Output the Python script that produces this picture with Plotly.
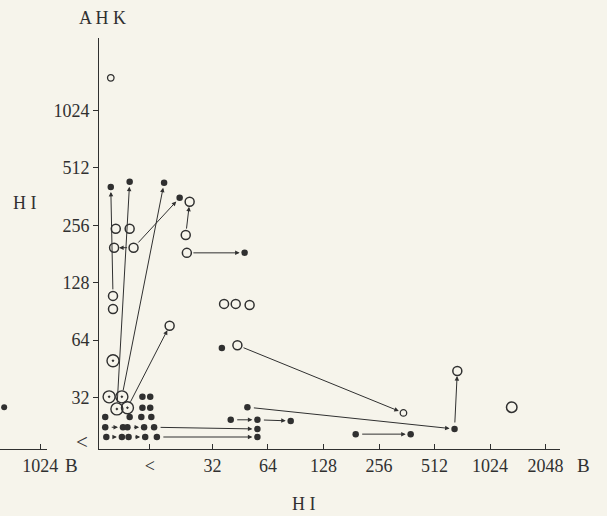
import numpy as np
import plotly.graph_objects as go

# ---- data (log2 of titres) ----
# HI titre (x, log2) and AHK titre (y, log2)
filled_hi = [3.17, 3.51, 4.13, 4.41, 5.58, 5.17, 5.63, 5.33, 5.81, 6.41, 5.81, 5.81, 9.36, 7.58, 8.57,
             3.74, 3.88, 3.74, 3.88, 3.07, 3.51, 3.72, 3.90, 3.07, 3.39, 3.47, 3.77, 3.95,
             3.09, 3.37, 3.49, 3.79, 4.00]
filled_ahk = [8.67, 8.76, 8.74, 8.48, 7.52, 5.86, 4.83, 4.61, 4.61, 4.59, 4.45, 4.31, 4.45, 4.36, 4.36,
              5.01, 5.01, 4.82, 4.82, 4.66, 4.66, 4.66, 4.66, 4.48, 4.48, 4.48, 4.48, 4.48,
              4.31, 4.31, 4.31, 4.31, 4.31]

double_hi = [3.14, 3.37, 3.28, 3.47, 3.21]
double_ahk = [5.01, 5.01, 4.80, 4.82, 5.64]

open_hi = [3.26, 3.51, 3.23, 3.58, 4.52, 4.59, 4.54, 3.21, 3.21, 5.21, 5.42, 5.67, 5.45, 4.23, 9.41]
open_ahk = [7.94, 7.94, 7.61, 7.61, 7.83, 8.41, 7.52, 6.77, 6.54, 6.63, 6.63, 6.61, 5.91, 6.25, 5.46]

small_open_hi = [3.17, 8.44]
small_open_ahk = [10.57, 4.73]

large_open_hi = [10.39]
large_open_ahk = [4.83]

# arrows: start (hi, ahk) -> end (hi, ahk), log2 titres
arrow_from_hi = [3.21, 3.28, 3.37, 3.47, 3.58, 3.58, 4.52, 4.54, 5.45, 5.63, 9.36, 5.33, 5.81,
                 3.95, 4.00, 7.58, 3.07, 3.47, 3.09, 3.49]
arrow_from_ahk = [6.77, 4.80, 5.01, 4.82, 7.61, 7.61, 7.83, 7.52, 5.91, 4.83, 4.45, 4.61, 4.61,
                  4.48, 4.31, 4.36, 4.48, 4.48, 4.31, 4.31]
arrow_to_hi = [3.17, 3.51, 4.13, 4.23, 4.41, 3.23, 4.59, 5.58, 8.44, 9.36, 9.41, 5.81, 6.41,
               5.81, 5.81, 8.57, 3.39, 3.77, 3.37, 3.79]
arrow_to_ahk = [8.67, 8.76, 8.74, 6.25, 8.48, 7.61, 8.41, 7.52, 4.73, 4.45, 5.46, 4.61, 4.59,
                4.45, 4.31, 4.36, 4.48, 4.48, 4.31, 4.31]

# neighbouring (cut-off) panel on the left
left_hi = [9.35]
left_ahk = [4.83]

x_tick_vals = [14.67, 32, 64, 128, 256, 512, 1024, 2048]
x_tick_text = ["<", "32", "64", "128", "256", "512", "1024", "2048"]
y_tick_vals = [32, 64, 128, 256, 512, 1024]
y_tick_text = ["32", "64", "128", "256", "512", "1024"]

INK = "#303030"
BG = "#f6f4eb"
FONT = "'Liberation Serif', 'DejaVu Serif', serif"
L2 = np.log10(2)

def t(v):
    return 2 ** np.array(v, dtype=float)

fig = go.Figure()

fig.add_trace(go.Scatter(x=t(filled_hi), y=t(filled_ahk), mode="markers",
                         marker=dict(symbol="circle", size=6.5, color=INK), showlegend=False))
fig.add_trace(go.Scatter(x=t(double_hi), y=t(double_ahk), mode="markers",
                         marker=dict(symbol="circle-open-dot", size=12, color=INK,
                                     line=dict(width=1.4, color=INK)), showlegend=False))
fig.add_trace(go.Scatter(x=t(open_hi), y=t(open_ahk), mode="markers",
                         marker=dict(symbol="circle-open", size=9, color=INK,
                                     line=dict(width=1.5, color=INK)), showlegend=False))
fig.add_trace(go.Scatter(x=t(small_open_hi), y=t(small_open_ahk), mode="markers",
                         marker=dict(symbol="circle-open", size=6.5, color=INK,
                                     line=dict(width=1.3, color=INK)), showlegend=False))
fig.add_trace(go.Scatter(x=t(large_open_hi), y=t(large_open_ahk), mode="markers",
                         marker=dict(symbol="circle-open", size=10.5, color=INK,
                                     line=dict(width=1.5, color=INK)), showlegend=False))
fig.add_trace(go.Scatter(x=t(left_hi), y=t(left_ahk), mode="markers", xaxis="x2", yaxis="y",
                         marker=dict(symbol="circle", size=6, color=INK), showlegend=False))

annotations = []
for x0, y0, x1, y1 in zip(arrow_from_hi, arrow_from_ahk, arrow_to_hi, arrow_to_ahk):
    annotations.append(dict(
        x=x1 * L2, y=y1 * L2, ax=x0 * L2, ay=y0 * L2,
        xref="x", yref="y", axref="x", ayref="y",
        text="", showarrow=True, arrowhead=2, arrowsize=0.9, arrowwidth=1,
        arrowcolor=INK, standoff=5, startstandoff=5))

H = 411.0
def py(p):
    return (449 - p) / H

def label(text, x, y, size=18):
    return dict(text=text, x=x / 607, y=py(y), xref="paper", yref="paper",
                xanchor="center", yanchor="middle", showarrow=False,
                font=dict(family=FONT, size=size, color=INK))

annotations += [
    label("A H K", 104, 18),
    label("H I", 310, 504),
    label("H I", 25, 203),
    label("B", 594, 465, 19),
    label("B", 73, 465, 19),
    label("<", 84, 442, 21),
]

TF = dict(family=FONT, size=18, color=INK)
fig.update_layout(
    width=607, height=516,
    margin=dict(l=0, r=0, t=38, b=67),
    paper_bgcolor=BG, plot_bgcolor=BG,
    font=dict(family=FONT, size=18, color=INK),
    annotations=annotations,
    xaxis=dict(type="log", domain=[101 / 607, 570 / 607],
               range=[2.961 * L2, 11.253 * L2],
               tickvals=x_tick_vals, ticktext=x_tick_text,
               ticks="inside", ticklen=5, tickcolor=INK, tickwidth=1,
               showline=True, linecolor=INK, linewidth=1.2,
               showgrid=False, zeroline=False, anchor="y", tickfont=TF),
    xaxis2=dict(type="log", domain=[0, 48 / 607],
                range=[9.275 * L2, 10.124 * L2],
                tickvals=[1024], ticktext=["1024"],
                ticks="inside", ticklen=5, tickcolor=INK, tickwidth=1,
                showline=True, linecolor=INK, linewidth=1.2,
                showgrid=False, zeroline=False, anchor="y", tickfont=TF),
    yaxis=dict(type="log", domain=[0, 1],
               range=[4.101 * L2, 11.265 * L2],
               tickvals=y_tick_vals, ticktext=y_tick_text,
               ticks="outside", ticklen=5, tickcolor=INK, tickwidth=1,
               showline=True, linecolor=INK, linewidth=1.2,
               showgrid=False, zeroline=False, anchor="x", tickfont=TF),
)

fig.write_html("out.html")
